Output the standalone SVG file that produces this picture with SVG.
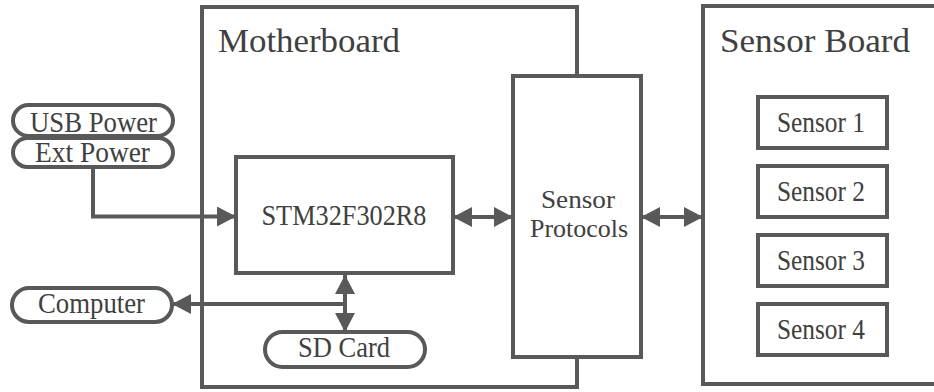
<svg xmlns="http://www.w3.org/2000/svg" width="934" height="392" viewBox="0 0 934 392">
<defs>
<marker id="ah" markerUnits="userSpaceOnUse" markerWidth="20" markerHeight="20" refX="19" refY="10" orient="auto-start-reverse" viewBox="0 0 20 20">
<path d="M0,0 L19,10 L0,20 z" fill="#595959"/>
</marker>
<style>
.box{fill:#fff;stroke:#595959;stroke-width:4}
.t{font-family:"Liberation Serif","Times New Roman",serif;fill:#404040;font-size:29px;text-anchor:middle}
.tl{font-family:"Liberation Serif","Times New Roman",serif;fill:#404040;font-size:34px}
.sp{font-size:26px}
.c{fill:none;stroke:#595959;stroke-width:4}
</style>
</defs>
<rect width="934" height="392" fill="#fff"/>
<g id="motherboard">
<rect class="box" x="202" y="7" width="375" height="380"/>
<text class="tl" x="218" y="51.5" textLength="182" lengthAdjust="spacingAndGlyphs">Motherboard</text>
</g>
<g id="sensor-board">
<rect class="box" x="703" y="6" width="245" height="378"/>
<text class="tl" x="720" y="51.5" textLength="190" lengthAdjust="spacingAndGlyphs">Sensor Board</text>
</g>
<g id="sensor-protocols">
<rect class="box" x="513" y="76" width="128" height="281"/>
<text class="t sp" x="578" y="208" textLength="74" lengthAdjust="spacingAndGlyphs">Sensor</text>
<text class="t sp" x="579" y="236.5" textLength="98" lengthAdjust="spacingAndGlyphs">Protocols</text>
</g>
<g id="stm32">
<rect class="box" x="236" y="157" width="217" height="116"/>
<text class="t" x="344" y="225" textLength="165" lengthAdjust="spacingAndGlyphs">STM32F302R8</text>
</g>
<g id="usb-power">
<rect class="box" x="13" y="105" width="160" height="31" rx="15.5"/>
<text class="t" x="93.5" y="131.5" textLength="127" lengthAdjust="spacingAndGlyphs">USB Power</text>
</g>
<g id="ext-power">
<rect class="box" x="13" y="138" width="160" height="29" rx="14.5"/>
<text class="t" x="92.5" y="161.5" textLength="115" lengthAdjust="spacingAndGlyphs">Ext Power</text>
</g>
<g id="computer">
<rect class="box" x="12" y="288" width="160" height="34" rx="17"/>
<text class="t" x="91.5" y="313" textLength="107" lengthAdjust="spacingAndGlyphs">Computer</text>
</g>
<g id="sd-card">
<rect class="box" x="265" y="332" width="160" height="35" rx="17.5"/>
<text class="t" x="344" y="357" textLength="92" lengthAdjust="spacingAndGlyphs">SD Card</text>
</g>
<g id="sensor-1">
<rect class="box" x="758" y="97" width="129" height="51"/>
<text class="t" x="821" y="131.5" textLength="88" lengthAdjust="spacingAndGlyphs">Sensor 1</text>
</g>
<g id="sensor-2">
<rect class="box" x="758" y="166" width="129" height="51"/>
<text class="t" x="821" y="200.5" textLength="88" lengthAdjust="spacingAndGlyphs">Sensor 2</text>
</g>
<g id="sensor-3">
<rect class="box" x="758" y="235" width="129" height="51"/>
<text class="t" x="821" y="269.5" textLength="88" lengthAdjust="spacingAndGlyphs">Sensor 3</text>
</g>
<g id="sensor-4">
<rect class="box" x="758" y="304" width="129" height="51"/>
<text class="t" x="821" y="338.5" textLength="88" lengthAdjust="spacingAndGlyphs">Sensor 4</text>
</g>
<g id="connectors">
<path class="c" d="M93,167 V216.5 H236" marker-end="url(#ah)"/>
<path class="c" d="M453,217 H513" marker-start="url(#ah)" marker-end="url(#ah)"/>
<path class="c" d="M641,217 H703" marker-start="url(#ah)" marker-end="url(#ah)"/>
<path class="c" d="M345,275 V332" marker-start="url(#ah)" marker-end="url(#ah)"/>
<path class="c" d="M345,304 H172" marker-end="url(#ah)"/>
</g>
</svg>
